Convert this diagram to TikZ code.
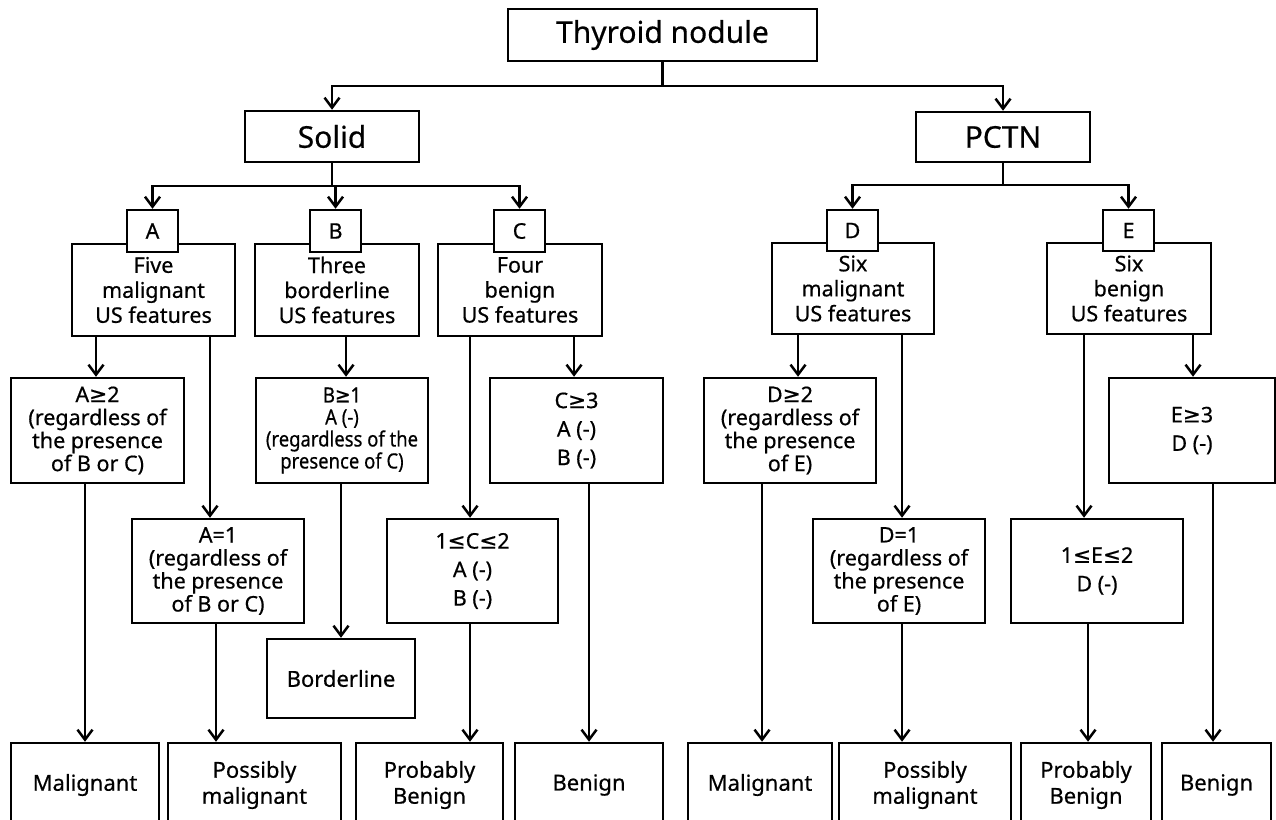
\documentclass[tikz,border=0pt]{standalone}
\usepackage{fontspec}
\setmainfont{Noto Sans}[FakeBold=0.5]
\newfontfamily\djv{DejaVu Sans}[FakeBold=0.5]
\usetikzlibrary{arrows.meta}
\newcommand\GE{{\djv ≥}}
\newcommand\LE{{\djv ≤}}
\newcommand\fbig{\fontsize{30}{34}\selectfont}
\newcommand\fmid{\fontsize{21.5}{25}\selectfont}
\newcommand\frow{\fontsize{21.5}{23}\selectfont}
\newcommand\fcond{\fontsize{21}{22}\selectfont}
\newcommand\fwide{\fontsize{21.5}{28.5}\selectfont}
\newcommand\fbot{\fontsize{22}{26}\selectfont}
\newcommand\cnd[1]{\scalebox{0.88}[1]{#1}}
\tikzset{
  box/.style={draw, line width=2.5pt, rectangle, inner sep=0pt, align=center, fill=white},
  ln/.style={line width=2.5pt},
  arr/.style={line width=2.5pt, -{Straight Barb[length=10pt,width=15pt]}},
}
\newcommand\bx[7]{\node[box,font=#6,minimum width={#4-#2},minimum height={#5-#3}] (#1) at ({(#2+#4)/2},{(#3+#5)/2}) {#7};}
\newcommand\varr[3]{\coordinate (tmp) at (#3,0); \draw[arr] (#1.south -| tmp) -- (#2.north -| tmp);}
\begin{document}
\begin{tikzpicture}[x=1pt,y=-1pt]
\clip (0,0) rectangle (1276,819);
\fill[white] (0,0) rectangle (1276,819);
% top
\bx{th}{508}{9}{817}{61}{\fbig}{Thyroid nodule}
\bx{solid}{245}{111}{419}{162}{\fbig}{Solid}
\bx{pctn}{916}{112}{1090}{162}{\fbig}{PCTN}
% feature boxes
\bx{Abig}{72}{244}{235}{336}{\fmid}{Five\\malignant\\US features}
\bx{Bbig}{255}{244}{419}{336}{\fmid}{Three\\borderline\\US features}
\bx{Cbig}{438}{244}{602}{336}{\fmid}{Four\\benign\\US features}
\bx{Dbig}{772}{243}{934}{334}{\fmid}{Six\\malignant\\US features}
\bx{Ebig}{1047}{243}{1211}{334}{\fmid}{Six\\benign\\US features}
\bx{As}{127}{210}{178}{252}{\fmid}{A}
\bx{Bs}{310}{210}{361}{252}{\fmid}{B}
\bx{Cs}{494}{210}{545}{252}{\fmid}{C}
\bx{Ds}{827}{210}{878}{251}{\fmid}{D}
\bx{Es}{1103}{210}{1154}{251}{\fmid}{E}
% criteria
\bx{A2}{11}{378}{184}{483}{\frow}{A\GE2\\(regardless of\\the presence\\of B or C)}
\bx{A1}{132}{519}{304}{623}{\frow}{A=1\\(regardless of\\the presence\\of B or C)}
\bx{B1}{256}{378}{428}{483}{\fcond}{\cnd{B\GE1}\\\cnd{A (-)}\\\cnd{(regardless of the}\\\cnd{presence of C)}}
\bx{C3}{490}{378}{663}{483}{\fwide}{C\GE3\\A (-)\\B (-)}
\bx{C12}{387}{519}{558}{623}{\fwide}{1\LE C\LE2\\A (-)\\B (-)}
\bx{D2}{704}{378}{876}{483}{\frow}{D\GE2\\(regardless of\\the presence\\of E)}
\bx{D1}{813}{519}{985}{623}{\frow}{D=1\\(regardless of\\the presence\\of E)}
\bx{E3}{1109}{378}{1275}{483}{\fwide}{E\GE3\\D (-)}
\bx{E12}{1011}{519}{1183}{623}{\fwide}{1\LE E\LE2\\D (-)}
\bx{Bd}{267}{639}{415}{718}{\fbot}{Borderline}
% outcomes
\bx{M1}{11}{743}{159}{827}{\fbot}{Malignant}
\bx{PM1}{168}{743}{341}{827}{\fbot}{Possibly\\malignant}
\bx{PB1}{356}{743}{503}{827}{\fbot}{Probably\\Benign}
\bx{BN1}{515}{743}{663}{827}{\fbot}{Benign}
\bx{M2}{688}{743}{832}{827}{\fbot}{Malignant}
\bx{PM2}{839}{743}{1011}{827}{\fbot}{Possibly\\malignant}
\bx{PB2}{1021}{743}{1151}{827}{\fbot}{Probably\\Benign}
\bx{BN2}{1162}{743}{1271}{827}{\fbot}{Benign}
% tree connectors
\coordinate (j0) at (662.5,86);
\draw[ln] (th.south) -- (j0);
\draw[arr] (j0) -| (solid.north);
\draw[arr] (j0) -| (pctn.north);
\coordinate (j1) at (332,186);
\draw[ln] (solid.south) -- (j1);
\draw[arr] (j1) -| (As.north);
\draw[arr] (j1) -| (Bs.north);
\draw[arr] (j1) -| (Cs.north);
\coordinate (j2) at (1003,185);
\draw[ln] (pctn.south) -- (j2);
\draw[arr] (j2) -| (Ds.north);
\draw[arr] (j2) -| (Es.north);
% vertical arrows
\varr{Abig}{A2}{96}
\varr{Abig}{A1}{210}
\varr{Bbig}{B1}{346}
\varr{Cbig}{C12}{470}
\varr{Cbig}{C3}{574}
\varr{B1}{Bd}{341}
\varr{A2}{M1}{85}
\varr{A1}{PM1}{216}
\varr{C12}{PB1}{470}
\varr{C3}{BN1}{589}
\varr{Dbig}{D2}{798}
\varr{Dbig}{D1}{902}
\varr{Ebig}{E12}{1084}
\varr{Ebig}{E3}{1193}
\varr{D2}{M2}{762}
\varr{D1}{PM2}{902}
\varr{E12}{PB2}{1088}
\varr{E3}{BN2}{1213}
\end{tikzpicture}
\end{document}
